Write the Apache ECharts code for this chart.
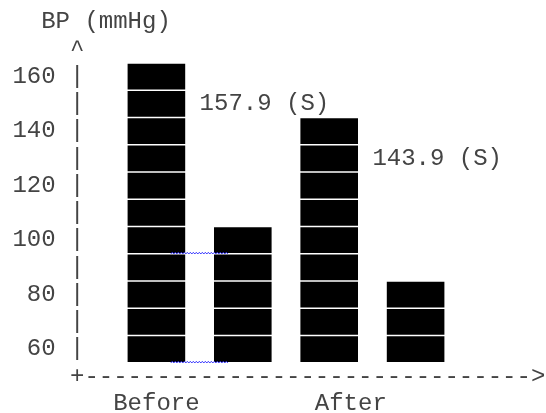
<!DOCTYPE html>
<html><head><meta charset="utf-8">
<script src="https://cdn.jsdelivr.net/npm/echarts@6/dist/echarts.min.js"></script>
<style>html,body{margin:0;padding:0;background:#fff}#c{width:546px;height:413px}</style>
</head><body><div id="c"></div>
<script>
// ---- data ----
const categories = ['Before', 'After'];
const systolic = [157.9, 143.9];
const diastolic = [100, 80];
const yTickLabels = [60, 80, 100, 120, 140, 160];
const yTitle = 'BP (mmHg)';
const squiggleMarks = [[0, 100], [0, 60]]; // editor underline marks: [category index, row]

// ---- style ----
const FONT = "'Liberation Mono', 'Courier New', monospace";
const FS = 24, CH = 14.4, LH = 27.25;
const BASE = 60, STEP = 10;
const TOPROW = Math.max.apply(null, yTickLabels);
const TEXT = '#444';

function barItem(sign, withLabel) {
  return function (params, api) {
    const cat = api.value(0), v = api.value(1);
    const band = api.size([1, 0])[0];
    const rowH = api.size([0, STEP])[1];
    const top = Math.round(v / STEP) * STEP;
    const cx = api.coord([cat, BASE])[0];
    const w = band / 3, x0 = cx + sign * band / 4 - w / 2;
    const children = [];
    for (let r = BASE; r <= top; r += STEP) {
      const y = api.coord([cat, r])[1];
      children.push({type: 'rect', shape: {x: x0, y: y - rowH / 2 + 0.7, width: w, height: rowH - 1.4},
        style: {fill: '#000'}});
    }
    if (withLabel) {
      const p = api.coord([cat, top - STEP]);
      children.push({type: 'text', x: cx, y: p[1],
        style: {text: v.toFixed(1) + ' (S)', font: FS + 'px ' + FONT, fill: TEXT,
          align: 'left', verticalAlign: 'middle', textAlign: 'left', textVerticalAlign: 'middle'}});
    }
    return {type: 'group', children: children};
  };
}

function squiggleItem(params, api) {
  const cat = api.value(0), r = api.value(1);
  const band = api.size([1, 0])[0];
  const rowH = api.size([0, STEP])[1];
  const c = band / 12;
  const p = api.coord([cat, r]);
  const y = p[1] + rowH / 2 - 0.6;
  const pts = [];
  let k = 0;
  for (let x = p[0] - 2 * c; x <= p[0] + 2 * c + 0.01; x += 1.5, k++) pts.push([x, y + (k % 2 ? -0.8 : 0.8)]);
  return {type: 'polyline', shape: {points: pts}, style: {stroke: '#2a2aff', lineWidth: 1, fill: null}};
}

const chart = echarts.init(document.getElementById('c'), null, {renderer: 'canvas'});
const gridLeft = 12.4 + 7 * CH;
chart.setOption({
  animation: false,
  backgroundColor: '#fff',
  grid: {left: gridLeft, width: 24 * CH, top: 8.5, height: 14 * LH, outerBoundsMode: 'none', containLabel: false},
  xAxis: {
    type: 'category', data: categories,
    axisLine: {show: false}, axisTick: {show: false}, splitLine: {show: false},
    axisLabel: {interval: 0, margin: 0, fontFamily: FONT, fontSize: FS, lineHeight: LH, color: TEXT,
      verticalAlign: 'top',
      formatter: function (val, idx) { return val + ' '.repeat([6, 3][idx]); }}
  },
  yAxis: {
    type: 'value', min: 45, max: 185, interval: 5,
    axisLine: {show: false}, axisTick: {show: false}, splitLine: {show: false},
    axisLabel: {margin: gridLeft - 12.4, align: 'left', fontFamily: FONT, fontSize: FS, lineHeight: LH, color: TEXT,
      showMinLabel: true, showMaxLabel: true,
      formatter: function (val) {
        const v = Math.round(val);
        if (v % STEP !== 0) return '';
        if (v === TOPROW + 2 * STEP) return '  ' + yTitle;
        if (v === TOPROW + STEP) return '    ^';
        if (v === BASE - STEP) return '    +' + '-'.repeat(31) + '>';
        if (v >= BASE && v <= TOPROW) return (yTickLabels.indexOf(v) >= 0 ? String(v).padStart(3) : '   ') + ' |';
        return '';
      }}
  },
  series: [
    {type: 'custom', name: 'Systolic', renderItem: barItem(-1, true), data: systolic.map((v, i) => [i, v]), encode: {x: 0, y: 1}},
    {type: 'custom', name: 'Diastolic', renderItem: barItem(1, false), data: diastolic.map((v, i) => [i, v]), encode: {x: 0, y: 1}},
    {type: 'custom', name: 'marks', renderItem: squiggleItem, data: squiggleMarks, encode: {x: 0, y: 1}, z: 5}
  ]
});
</script></body></html>
